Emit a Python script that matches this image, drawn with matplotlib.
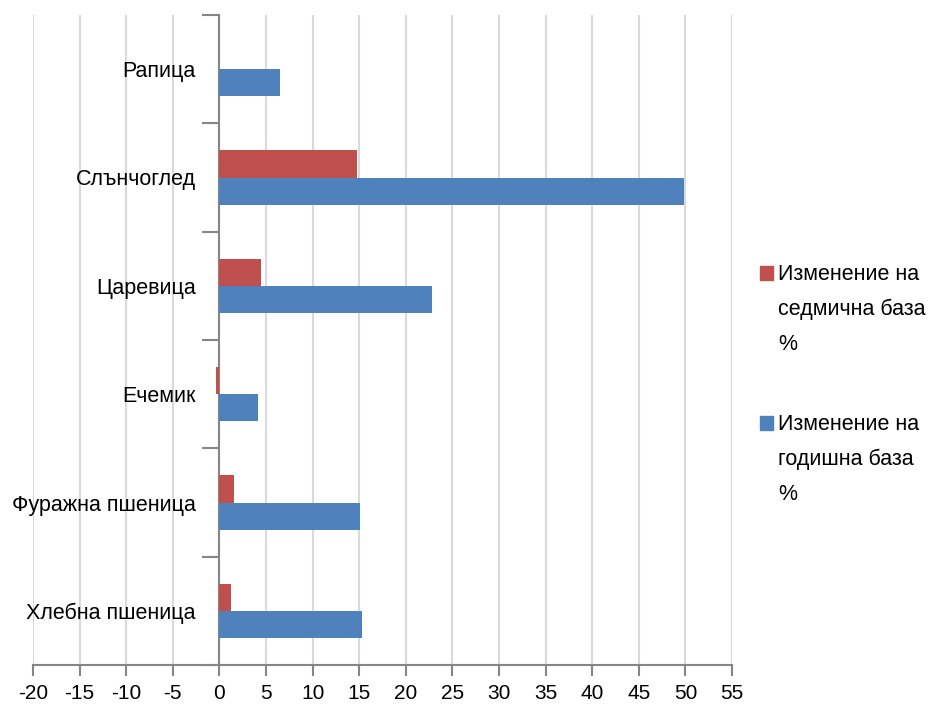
import matplotlib
matplotlib.use("Agg")
import matplotlib.pyplot as plt
import numpy as np
from matplotlib.patches import Rectangle
from matplotlib import font_manager

categories = ["Хлебна пшеница", "Фуражна пшеница", "Ечемик", "Царевица", "Слънчоглед", "Рапица"]
weekly = [1.2, 1.6, -0.4, 4.5, 14.8, 0.0]
annual = [15.3, 15.1, 4.1, 22.8, 49.8, 6.5]
series_names = ["Изменение на\nседмична база\n%", "Изменение на\nгодишна база\n%"]
xticks = list(range(-20, 56, 5))

names = {f.name for f in font_manager.fontManager.ttflist}
fam = "Liberation Sans Narrow" if "Liberation Sans Narrow" in names else "Liberation Sans"
plt.rcParams['font.family'] = [fam, "DejaVu Sans"]

red = "#C0504D"
blue = "#4F81BD"
grey = "#868686"

fig = plt.figure(figsize=(9.33, 7.11), dpi=100)
ax = fig.add_axes([33/933, 1-665/711, (732-33)/933, (665-15)/711])

y = np.arange(len(categories))
h = 0.25
ax.barh(y + h/2, weekly, height=h, color=red, zorder=3)
ax.barh(y - h/2, annual, height=h, color=blue, zorder=3)

ax.set_xlim(-20, 55)
ax.set_ylim(-0.5, len(categories) - 0.5)
ax.set_xticks(xticks)
ax.set_xticklabels([str(t) for t in xticks], fontsize=15)
ax.xaxis.grid(True, color="#d9d9d9", linewidth=1.5, zorder=0)
ax.set_axisbelow(True)

# y axis at x=0
ax.spines['left'].set_position(('data', 0))
ax.spines['left'].set_color(grey)
ax.spines['left'].set_linewidth(1.5)
ax.spines['bottom'].set_color(grey)
ax.spines['bottom'].set_linewidth(1.5)
ax.spines['top'].set_visible(False)
ax.spines['right'].set_visible(False)

ax.set_yticks(np.arange(-0.5, len(categories), 1.0))
ax.set_yticklabels([])
ax.set_yticks(y, minor=True)
ax.set_yticklabels(categories, minor=True, fontsize=15.5)
ax.tick_params(axis='y', which='major', length=12, width=1.5, color=grey, direction='out')
ax.tick_params(axis='y', which='minor', length=0, pad=17)
ax.tick_params(axis='x', length=8, width=1.5, color=grey, direction='out', pad=6)

# legend
for i, (col, name) in enumerate(zip([red, blue], series_names)):
    ytop = 1 - (266 if i == 0 else 416) / 711
    fig.patches.append(Rectangle((760/933, ytop - 14/711), 13/933, 14/711,
                                 transform=fig.transFigure, color=col))
    fig.text(778/933, ytop + 2/711, name, fontsize=15.5, va='top', ha='left',
             linespacing=1.85)

fig.savefig("out.png", dpi=100)
